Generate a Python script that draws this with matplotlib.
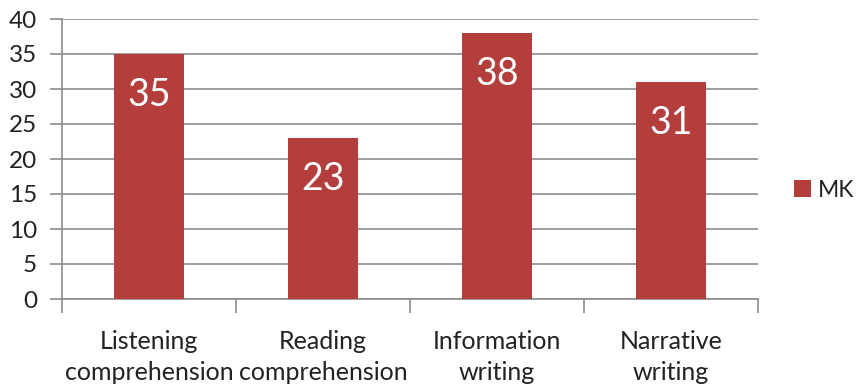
import matplotlib.pyplot as plt
import numpy as np

categories = ['Listening\ncomprehension', 'Reading\ncomprehension',
              'Information\nwriting', 'Narrative\nwriting']
values = [35, 23, 38, 31]
series_name = 'MK'

bar_color = '#B43E3C'
grid_color = '#8C8C8C'

plt.rcParams['font.family'] = ['Lato', 'DejaVu Sans']

fig = plt.figure(figsize=(8.57, 3.90), dpi=100)
ax = fig.add_axes([62/857, 1-299/390, 696/857, 280/390])

x = np.arange(len(categories))
bars = ax.bar(x, values, width=0.40, color=bar_color, label=series_name, zorder=3)

for b, v in zip(bars, values):
    ax.text(b.get_x() + b.get_width()/2, v - 5.9, str(v), ha='center', va='center',
            color='white', fontsize=27, zorder=4)

ax.set_xlim(-0.5, len(categories) - 0.5)
ax.set_ylim(0, 40)
ax.set_yticks(range(0, 41, 5))
ax.yaxis.grid(True, color=grid_color, linewidth=1.2, zorder=0)

# category boundary ticks like the Excel chart
ax.set_xticks(np.arange(-0.5, len(categories), 1.0))
ax.set_xticklabels([])
ax.set_xticks(x, minor=True)
ax.set_xticklabels(categories, minor=True, fontsize=18, linespacing=1.42)
ax.tick_params(axis='x', which='minor', length=0, pad=22, labelcolor='#222222')
ax.tick_params(axis='x', which='major', length=10, color=grid_color, width=1.2)
ax.tick_params(axis='y', length=9, color=grid_color, width=1.2, pad=9, labelsize=17.5, labelcolor='#222222')

for side in ['top', 'right']:
    ax.spines[side].set_visible(False)
for side in ['left', 'bottom']:
    ax.spines[side].set_color(grid_color)
    ax.spines[side].set_linewidth(1.2)

leg = fig.legend(loc='center left', bbox_to_anchor=(794/857, 1-190/390), frameon=False,
                 fontsize=16.5, handlelength=0.75, handleheight=0.75, handletextpad=0.3,
                 borderaxespad=0, borderpad=0)
for t in leg.get_texts():
    t.set_color('#222222')

fig.savefig('out.png', dpi=100)
